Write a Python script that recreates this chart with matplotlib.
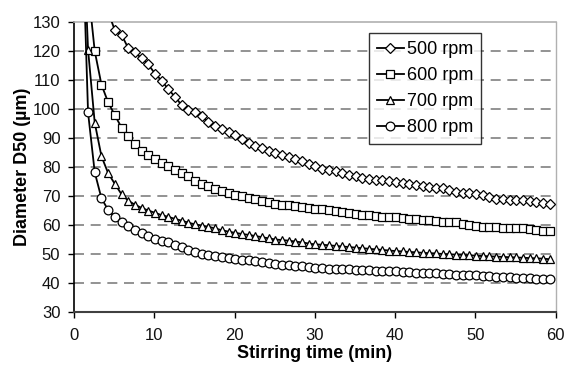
import numpy as np
import matplotlib
matplotlib.use("Agg")
import matplotlib.pyplot as plt

plt.rcParams['font.family'] = ['Liberation Sans', 'DejaVu Sans']

# sampling times (min), one sample every 50 s
time_min = [round(0.9167 + k * 50 / 60, 2) for k in range(71)]

nan = float('nan')
rpm500 = [nan, nan, nan, nan, 133.5,
          127.2, 125.6, 121.0, 119.5, 117.5, 115.4, 112.2, 109.8, 106.8, 104.2,
          101.3, 99.6, 98.9, 97.5, 95.4, 94.1, 93.2, 92.1, 91.0, 89.6,
          88.4, 87.4, 86.5, 85.6, 84.7, 84.1, 83.5, 82.7, 81.9, 80.9,
          80.2, 79.3, 79.0, 78.5, 77.9, 77.3, 76.8, 76.2, 75.9, 75.6,
          75.4, 75.1, 74.8, 74.4, 74.1, 73.8, 73.5, 73.2, 72.9, 72.6,
          72.0, 71.4, 71.1, 70.9, 70.6, 70.2, 69.7, 69.1, 68.8, 68.6,
          68.6, 68.5, 68.2, 67.9, 67.6, 67.2]
rpm600 = [nan, 142.0,
          120.0, 108.4, 102.3, 97.9, 93.6, 90.6, 88.0, 85.5, 84.0, 82.8,
          81.3, 80.4, 78.8, 77.8, 76.9, 75.3, 74.0, 73.3, 72.4, 71.6,
          71.0, 70.5, 70.0, 69.4, 68.9, 68.4, 67.9, 67.4, 67.0, 66.8,
          66.5, 66.3, 66.0, 65.6, 65.4, 65.1, 64.8, 64.5, 64.2, 63.9,
          63.6, 63.3, 63.0, 62.9, 62.9, 62.8, 62.5, 62.2, 61.9, 61.7,
          61.6, 61.4, 61.1, 61.1, 61.0, 60.5, 60.0, 59.7, 59.4, 59.4,
          59.3, 59.0, 58.9, 58.9, 58.8, 58.5, 58.3, 58.1, 57.9]
rpm700 = [175.0,
          120.5, 95.3, 83.7, 77.9, 74.2, 70.6, 68.4, 67.0, 65.9, 65.0,
          64.2, 63.4, 62.8, 62.1, 61.5, 60.8, 60.2, 59.8, 59.4, 58.8,
          58.2, 57.7, 57.3, 56.9, 56.6, 56.2, 55.8, 55.4, 55.0, 54.8,
          54.6, 54.3, 54.0, 53.6, 53.3, 53.2, 53.0, 52.8, 52.6, 52.4,
          52.2, 52.0, 51.8, 51.6, 51.4, 51.2, 51.0, 50.9, 50.7, 50.6,
          50.4, 50.3, 50.2, 50.0, 49.9, 49.8, 49.7, 49.6, 49.4, 49.3,
          49.2, 49.1, 49.0, 48.9, 48.8, 48.7, 48.6, 48.5, 48.4, 48.2]
rpm800 = [172.0,
          98.8, 78.2, 69.2, 65.2, 62.7, 61.1, 59.5, 58.3, 57.1, 56.2,
          55.1, 54.4, 54.0, 53.2, 52.3, 51.4, 50.7, 50.0, 49.7, 49.3,
          48.9, 48.5, 48.3, 48.1, 47.9, 47.6, 47.2, 46.8, 46.4, 46.2,
          46.1, 46.0, 45.8, 45.5, 45.2, 45.1, 45.0, 44.9, 44.8, 44.7,
          44.6, 44.5, 44.4, 44.3, 44.2, 44.1, 44.0, 43.9, 43.7, 43.6,
          43.5, 43.4, 43.3, 43.2, 43.0, 42.9, 42.8, 42.7, 42.6, 42.5,
          42.3, 42.2, 42.0, 41.9, 41.8, 41.7, 41.6, 41.5, 41.4, 41.3]

series = [("500 rpm", rpm500, "D", 4.6),
          ("600 rpm", rpm600, "s", 5.6),
          ("700 rpm", rpm700, "^", 6.4),
          ("800 rpm", rpm800, "o", 6.3)]

x_ticks = [0, 10, 20, 30, 40, 50, 60]
y_ticks = [30, 40, 50, 60, 70, 80, 90, 100, 110, 120, 130]

fig = plt.figure(figsize=(5.66, 3.65), dpi=100)
ax = fig.add_axes([74 / 566, 1 - 312 / 365, (555.7 - 74) / 566, (312 - 22) / 365])

for label, vals, mk, ms in series:
    ax.plot(time_min, vals, color='black', lw=1.3, marker=mk, markersize=ms,
            markerfacecolor='white', markeredgecolor='black', markeredgewidth=0.9,
            label=label, zorder=3)

ax.set_xlim(0, 60)
ax.set_ylim(30, 130)
ax.set_xticks(x_ticks)
ax.set_yticks(y_ticks)
ax.tick_params(direction='out', length=4.3, width=1, labelsize=12, color='black')
ax.tick_params(axis='x', pad=7.5)
ax.tick_params(axis='y', pad=5.5)
for t in ax.get_yticklabels() + ax.get_xticklabels():
    t.set_color('#111111')

for y in y_ticks[1:-1]:
    ax.axhline(y, color='#808080', lw=1.2, ls=(0, (6, 4)), zorder=1)

ax.spines['left'].set_color('black')
ax.spines['left'].set_linewidth(1.2)
ax.spines['bottom'].set_color('#404040')
ax.spines['bottom'].set_linewidth(1.5)
ax.spines['top'].set_color('#b0b0b0')
ax.spines['top'].set_linewidth(1.2)
ax.spines['right'].set_color('#b0b0b0')
ax.spines['right'].set_linewidth(1.0)

ax.set_xlabel("Stirring time (min)", fontsize=13, fontweight='bold', labelpad=1)
ax.set_ylabel("Diameter D50 (µm)", fontsize=13, fontweight='bold', labelpad=1)

leg = ax.legend(loc='upper right', bbox_to_anchor=(481 / 566, 1 - 33 / 365),
                bbox_transform=fig.transFigure, frameon=True, fancybox=False,
                fontsize=13, handlelength=1.5, handletextpad=0.15,
                borderpad=0.45, labelspacing=0.5, borderaxespad=0)
leg.get_frame().set_edgecolor('black')
leg.get_frame().set_linewidth(1.0)
for h in leg.legend_handles:
    h.set_linewidth(1.3)

fig.savefig("out.png", dpi=100)
